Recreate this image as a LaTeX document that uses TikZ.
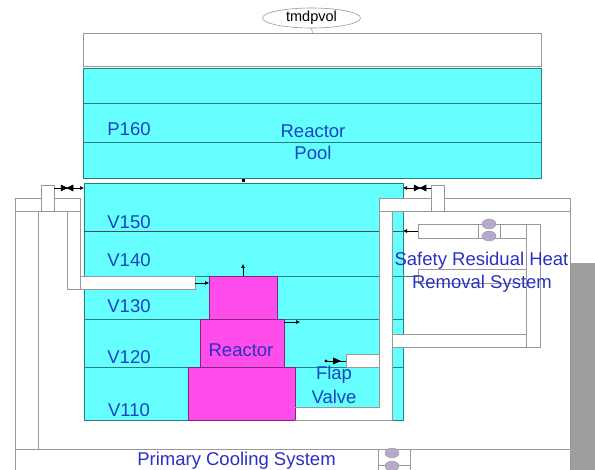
\documentclass[tikz,border=0pt]{standalone}
\usepackage{fontspec}
\setmainfont{Liberation Sans}
\usetikzlibrary{arrows.meta,shapes.geometric}
\definecolor{poolcyan}{HTML}{66FFFF}
\definecolor{coremag}{HTML}{FF4DEB}
\definecolor{labelblue}{HTML}{1A44C0}
\definecolor{heatblue}{HTML}{2A30C0}
\definecolor{pipegray}{HTML}{989898}
\definecolor{pumpfill}{HTML}{B8A8CC}
\tikzset{
    pool/.style={draw=teal!70!gray,line width=0.6pt,fill=poolcyan},
    core/.style={draw=violet!70!gray,line width=0.7pt,fill=coremag},
    pipe/.style={draw=pipegray,line width=0.8pt,fill=white},
    wall/.style={draw=pipegray,line width=0.8pt},
    tag/.style={text=labelblue,font=\fontsize{18.5}{20}\selectfont,inner sep=0pt},
    link/.style={line width=0.5pt,-{Latex[length=4pt,width=4pt]}},
    pumpcase/.style={ellipse,draw=pipegray,fill=pumpfill,minimum width=14pt,minimum height=10pt,inner sep=0pt},
    bowtie/.style={line width=0.5pt,fill=black},
}
\newcommand{\valvemark}[1]{\draw[bowtie] (#1) ++(-6,-3) -- ++(12,6) -- ++(0,-6) -- ++(-12,6) -- cycle;}
\begin{document}
\begin{tikzpicture}[x=1pt,y=-1pt]
    \useasboundingbox (0,0) rectangle (595,470);
    % top of the pool
    \node[ellipse,draw=pipegray,line width=0.6pt,minimum width=98pt,minimum height=20pt,inner sep=0pt,font=\fontsize{14.5}{16}\selectfont] (tmdp) at (311.5,18) {tmdpvol};
    \node[draw=pipegray,line width=0.8pt,minimum width=458pt,minimum height=33pt,inner sep=0pt] (head) at (312.5,49.5) {};
    \draw[wall,line width=0.6pt] (tmdp.south) -- (head.north);
    \draw[pool] (83,68) rectangle (541,178);
    \draw[pool] (83,103) -- (541,103);
    \draw[pool] (83,142) -- (541,142);
    % lower vessel
    \draw[pool] (84,183) rectangle (403,420);
    \foreach \y in {276,319,367}
        \draw[pool] (84,\y) -- (403,\y);
    \draw[pool] (403,276) -- (418,276);
    \draw[black!70,line width=0.6pt] (84,231) -- (403,231);
    % reactor
    \draw[core] (209,276) rectangle (277,319);
    \draw[core] (200,319) rectangle (284,367);
    \draw[core] (188,367) rectangle (295,420);
    % left pipes
    \draw[wall] (15,470) -- (15,198) -- (80,198) -- (80,276);
    \draw[wall] (15,211) -- (80,211);
    \draw[wall] (38,211) -- (38,449);
    \draw[wall] (67,211) -- (67,289) -- (80,289);
    \draw[pipe] (41,211) rectangle (54,185);
    \draw[pipe] (80,276) rectangle (195,289);
    % right pipes
    \fill[white] (379,211) rectangle (392,407);
    \fill[white] (295.5,407) rectangle (392,420);
    \draw[pipe] (379,198) rectangle (570,211);
    \draw[pipe] (431,185) rectangle (444,211);
    \draw[wall] (379,211) -- (379,407) -- (295,407);
    \draw[wall] (392,211) -- (392,334);
    \draw[wall] (392,347) -- (392,420) -- (295,420);
    \draw[pipe] (346,354) rectangle (379,367);
    \draw[pipe] (392,334) rectangle (526,347);
    \draw[pipe] (526,224) rectangle (540,347);
    \draw[pipe] (418,224) rectangle (478,238);
    \draw[pipe] (500,224) rectangle (526,238);
    \draw[wall] (418,283) -- (418,269) -- (526,269);
    \draw[wall] (418,283) -- (526,283);
    \draw[wall] (570,198) -- (570,470);
    \fill[black!38] (570.5,263) rectangle (595,470);
    \draw[wall] (15,449) -- (378,449) -- (378,470);
    \draw[wall] (410,470) -- (410,449) -- (570,449);
    % pumps
    \draw[wall,line width=0.5pt] (478,224) -- (500,224);
    \draw[wall,line width=0.5pt] (478,238) -- (500,238);
    \node[pumpcase] (srhA) at (489,224) {};
    \node[pumpcase] (srhB) at (489,236) {};
    \draw[wall,line width=0.5pt] (378,449) -- (410,449);
    \draw[wall,line width=0.5pt] (378,465) -- (410,465);
    \node[pumpcase] (pcsA) at (392,453) {};
    \node[pumpcase] (pcsB) at (392,466) {};
    % valves and junctions
    \valvemark{67,188}
    \valvemark{420,188}
    \draw[link] (54,188) -- (84,188);
    \draw[link] (431,188) -- (403,188);
    \draw[link] (418,231) -- (403,231);
    \draw[link] (195,283) -- (209,283);
    \draw[link] (243,276) -- (243,264);
    \draw[link] (284,322) -- (300,322);
    \draw[line width=0.5pt] (346,361) -- (325,361);
    \fill (333,357.5) -- (341,361) -- (333,364.5) -- cycle;
    \fill (241.5,179) rectangle (244.5,182);
    \fill (326,361) circle (1.7);
    % labels
    \node[tag] (p160) at (129,129) {P160};
    \node[tag] (rpool) at (313,131) {Reactor};
    \node[tag] (rpoolb) at (313,153) {Pool};
    \node[tag] (v150) at (129,222) {V150};
    \node[tag] (v140) at (129,260) {V140};
    \node[tag] (v130) at (129,306) {V130};
    \node[tag] (v120) at (129,357) {V120};
    \node[tag] (v110) at (129,410) {V110};
    \node[tag,text=heatblue] (vessel) at (241,350) {Reactor};
    \node[tag] (flapa) at (334,375) {Flap};
    \node[tag] (flapb) at (334,397) {Valve};
    \node[tag,text=heatblue] (srhr) at (481.5,261) {Safety Residual Heat};
    \node[tag,text=heatblue] (srhrb) at (482,284) {Removal System};
    \node[tag,text=heatblue] (pcs) at (236.5,461) {Primary Cooling System};
\end{tikzpicture}
\end{document}
